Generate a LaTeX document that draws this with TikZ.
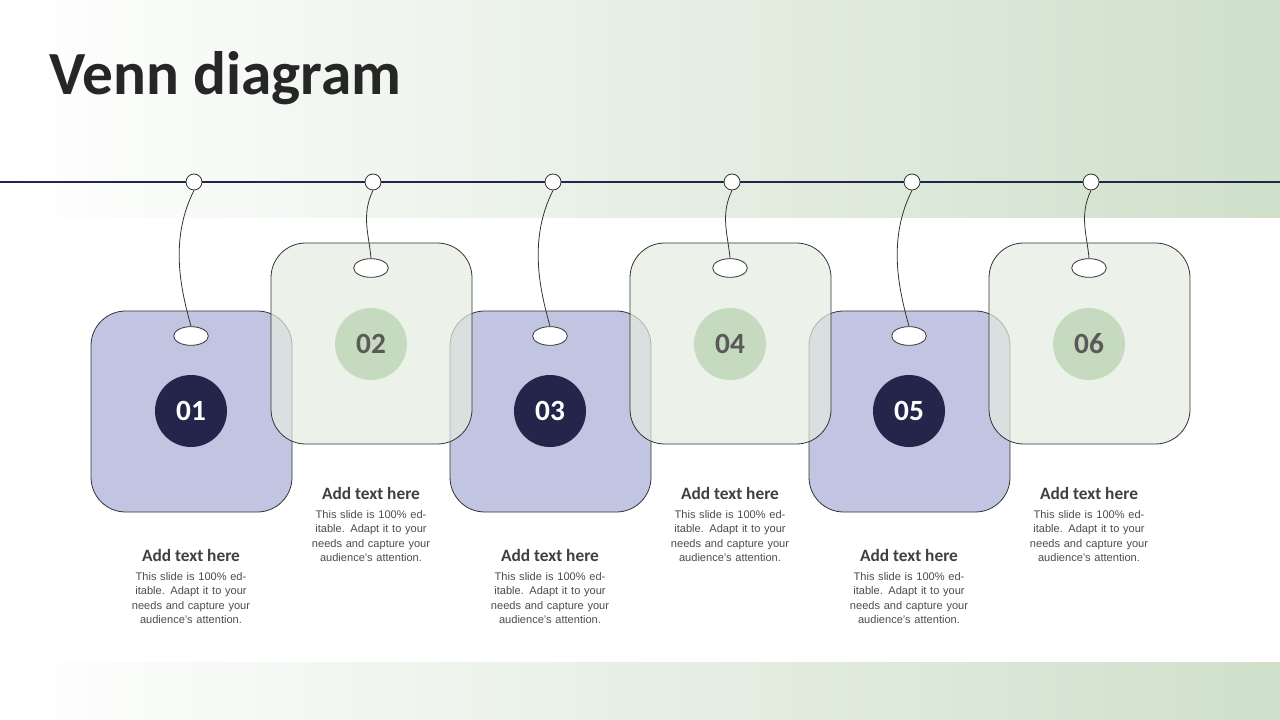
\documentclass[tikz,border=0pt]{standalone}
\usepackage{fontspec}
\usetikzlibrary{shapes.geometric}
\setmainfont{Carlito}
\newfontfamily\bodyf{Liberation Sans}
\definecolor{navy}{HTML}{23264A}
\definecolor{lblue}{HTML}{BEC2E0}
\definecolor{lgreen}{HTML}{E4EDDF}
\definecolor{mgreen}{HTML}{C6DABF}
\definecolor{bandg}{HTML}{CFE0CB}
\begin{document}
\begin{tikzpicture}[x=0.75pt,y=-0.75pt,
  oddbox/.style={draw=black!80,line width=0.6pt,fill=lblue,fill opacity=0.95,rounded corners=26pt},
  evenbox/.style={draw=black!80,line width=0.6pt,fill=lgreen,fill opacity=0.7,rounded corners=26pt},
  hole/.style={draw=black!80,fill=white,line width=0.6pt,ellipse,minimum width=26pt,minimum height=14pt,inner sep=0pt},
  pin/.style={draw=black!80,fill=white,circle,minimum size=12pt,inner sep=0pt,line width=0.6pt},
  numodd/.style={circle,fill=navy,minimum size=54pt,text=white,font=\fontsize{22}{24}\selectfont\bfseries},
  numeven/.style={circle,fill=mgreen,minimum size=54pt,text=black!65,font=\fontsize{22}{24}\selectfont\bfseries},
  ttl/.style={font=\fontsize{13}{15}\selectfont\bfseries,text=black!75},
  body/.style={font=\bodyf\fontsize{8.3}{10.6}\selectfont,text=black!70,align=center,text width=110pt},
  str/.style={draw=black!80,line width=0.6pt}]
\useasboundingbox (0,0) rectangle (1280,720);
\shade[left color=white,right color=bandg] (0,0) rectangle (1280,218);
\shade[left color=white,right color=bandg] (0,662) rectangle (1280,720);
\node[anchor=west,font=\fontsize{46}{50}\selectfont\bfseries,text=black!85] (title) at (45,78) {Venn diagram};
\coordinate (L) at (0,182); \coordinate (R) at (1280,182);
\draw[navy,line width=1pt] (L) -- (R);
\foreach \i/\x in {1/191,3/550,5/909}{
  \draw[oddbox] (\x-100,311) rectangle (\x+101,512);
}
\foreach \i/\x in {2/371,4/730,6/1089}{
  \draw[evenbox] (\x-100,243) rectangle (\x+101,444);
}
\foreach \i/\x/\px in {1/191/194,3/550/553,5/909/912}{
  \node[pin] (p\i) at (\px,182) {};
  \node[hole] (h\i) at (\x,336) {};
  \draw[str] (p\i.south) .. controls (\px-25,240) and (\x-10,290) .. (h\i.north);
  \node[numodd] (n\i) at (\x,411) {0\i};
  \node[ttl] (t\i) at (\x,555) {Add text here};
  \node[body,anchor=north] (b\i) at (\x,568) {This slide is 100\% editable. Adapt it to your needs and capture your audience’s attention.};
}
\foreach \i/\x/\px in {2/371/373,4/730/732,6/1089/1091}{
  \node[pin] (p\i) at (\px,182) {};
  \node[hole] (h\i) at (\x,268) {};
  \draw[str] (p\i.south) .. controls (\px-12,215) and (\x-2,235) .. (h\i.north);
  \node[numeven] (n\i) at (\x,344) {0\i};
  \node[ttl] (t\i) at (\x,493) {Add text here};
  \node[body,anchor=north] (b\i) at (\x,506) {This slide is 100\% editable. Adapt it to your needs and capture your audience’s attention.};
}
\end{tikzpicture}
\end{document}
